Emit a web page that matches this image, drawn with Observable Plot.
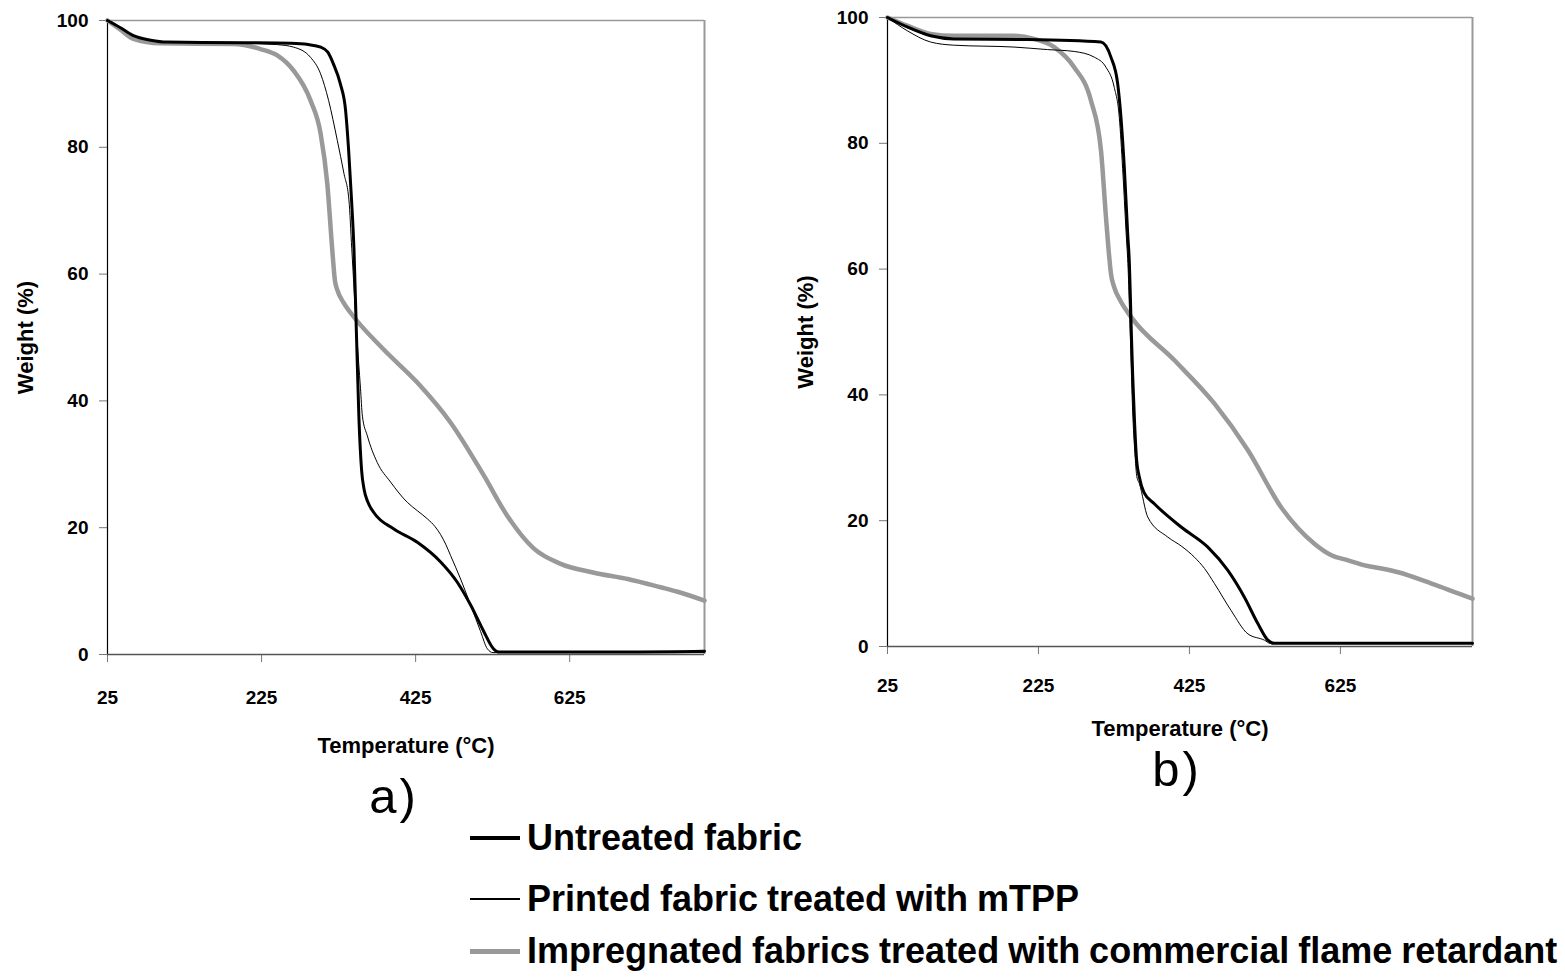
<!DOCTYPE html>
<html>
<head>
<meta charset="utf-8">
<script src="https://cdn.jsdelivr.net/npm/d3@7"></script>
<script src="https://cdn.jsdelivr.net/npm/@observablehq/plot@0.6"></script>
<style>
  html, body { margin: 0; padding: 0; background: #fff; }
  #page { position: relative; width: 1565px; height: 978px; overflow: hidden; background: #fff;
          font-family: "Liberation Sans", Arial, sans-serif; }
  .chart { position: absolute; top: 0; }
  .panel { position: absolute; font-size: 49px; letter-spacing: 3px; font-weight: normal; line-height: 1; color: #000; transform: translate(-50%, -50%); }
  .leg { position: absolute; left: 470px; display: flex; align-items: center; height: 44px; transform: translateY(-50%);
         font-size: 36px; font-weight: bold; word-spacing: -1px; color: #000; white-space: nowrap; }
  .sw { display: inline-block; width: 50px; margin-right: 7px; }
</style>
</head>
<body>
<div id="page">
  <div id="chartA" class="chart" style="left:0px"></div>
  <div id="chartB" class="chart" style="left:780px"></div>
  <div class="panel" style="left:394px; top:796px">a)</div>
  <div class="panel" style="left:1177px; top:769px">b)</div>
  <div class="leg" style="top:838px"><span class="sw" style="height:4px;background:#000"></span><span id="l1"></span></div>
  <div class="leg" style="top:899px"><span class="sw" style="height:1.5px;background:#000"></span><span id="l2"></span></div>
  <div class="leg" style="top:951px"><span class="sw" style="height:5px;background:#999"></span><span id="l3"></span></div>
</div>
<script>
// ---- data (temperature °C, weight %) ----
const xTicks = [25, 225, 425, 625];
const yTicks = [0, 20, 40, 60, 80, 100];
const seriesNames = [
  "Untreated fabric",
  "Printed fabric treated with mTPP",
  "Impregnated fabrics treated with commercial flame retardant"
];
const xLabel = "Temperature (°C)";
const yLabel = "Weight (%)";

// panel a)
const aUntreated = [[25,100],[41.3,98.9],[58.7,97.6],[81.2,96.9],[101.6,96.6],[203.7,96.5],[263,96.4],[285.5,96.2],[301.8,95.8],[311,95],[318.1,93.2],[327.3,90],[334.1,85.8],[338,79.6],[341.8,71.7],[345,63.8],[348.3,50],[351.3,37.6],[354.9,29],[358,26.1],[363.1,24],[370.7,22.4],[396.8,19.8],[427.2,17.7],[457.5,14.6],[479.1,11.4],[496.4,7.8],[513.6,3.6],[525.5,1.0],[532.6,0.4],[612.3,0.4],[714.4,0.4],[800,0.5]];
const aPrinted = [[25,100],[41.3,98.9],[58.7,97.6],[81.2,96.9],[101.6,96.6],[203.7,96.4],[244.6,96.2],[266.6,95.8],[288.5,94.2],[301.6,91.6],[312,87.4],[323.3,81.1],[331.9,75.9],[338.4,71.7],[342.1,64],[348.8,50],[353.4,42],[355.9,37.6],[362.3,34.5],[375.1,30.3],[392.5,27.2],[414.2,24],[427,22.7],[440.2,21.4],[450,20.2],[457.5,18.9],[464,17.4],[470.4,15.6],[483.4,11.9],[496.4,7.8],[509.4,3.6],[518.1,0.9],[525.5,0.3],[800,0.3]];
const aImpregnated = [[25,100],[41.3,98.6],[58.7,97.1],[93.4,96.4],[188.4,96.3],[223.7,95.5],[245.4,94.5],[266.6,92.1],[288.5,87.4],[301.6,82.2],[310.3,74.3],[316.8,63.8],[320.2,59],[323.3,57.5],[331.4,55.5],[340.6,53.9],[383.5,48.1],[427.2,42.9],[470.3,36.6],[513.7,28.2],[543.9,21.9],[578.6,16.7],[613.3,14.3],[656.6,12.9],[700.2,11.9],[743.1,10.6],[765,9.9],[800,8.5]];

// panel b)
const bUntreated = [[25,100],[51.1,98.5],[82.1,97.1],[112.8,96.6],[207.9,96.5],[307.8,96.1],[321,93.7],[329.9,89.5],[334.3,84.1],[338.7,76.2],[343.2,65.6],[345.4,61],[346.9,55],[348,50],[352,36.5],[354.8,30],[358.7,26.9],[364.7,24.5],[378.5,22.7],[414,19],[449.4,15.8],[475.9,12.1],[498,7.8],[515.8,3.6],[529,1.0],[537.2,0.5],[800,0.5]];
const bPrinted = [[25,100],[51.1,97.9],[82.1,96.1],[112.8,95.6],[192.7,95.3],[237,94.9],[272.3,94.6],[298.9,93.7],[314.4,92.1],[325.4,88.9],[332.1,84.1],[336.5,76],[341.2,65.6],[343.8,60],[345.9,52.4],[350.1,36.5],[353.2,30],[355.3,27],[358.7,25.9],[369.7,20.6],[396.3,17.4],[415,15.9],[431.6,14.2],[445,12.4],[458.2,10.0],[480.3,5.7],[502.5,2.0],[524.5,1.0],[532,0.5],[800,0.5]];
const bImpregnated = [[25,100],[51.1,98.7],[82.1,97.4],[112.8,97.1],[192.7,97.1],[219.2,96.6],[245.8,95.3],[272.3,92.1],[294.5,86.8],[307.8,78.9],[314.4,68.3],[318.7,62],[321,59.3],[325.4,57.1],[333.4,55],[347.6,52.4],[405.1,45.5],[458.2,38.6],[502.5,31.2],[546.7,22.1],[590.9,16.3],[613.1,14.5],[635.2,13.7],[657.3,12.9],[679.5,12.4],[701.6,11.8],[745.8,10.0],[800,7.6]];

document.getElementById("l1").textContent = seriesNames[0];
document.getElementById("l2").textContent = seriesNames[1];
document.getElementById("l3").textContent = seriesNames[2];

const font = "Liberation Sans, Arial, sans-serif";

function makeChart({untreated, printed, impregnated, width, height, mt, mr, mb, ml, tickPad, xTitleDy}) {
  return Plot.plot({
    width, height,
    marginTop: mt, marginRight: mr, marginBottom: mb, marginLeft: ml,
    style: {fontFamily: font, fontWeight: "bold", fontSize: "19px", background: "transparent", overflow: "visible"},
    x: {domain: [25, 800]},
    y: {domain: [0, 100]},
    marks: [
      Plot.ruleY([100], {stroke: "#999", strokeWidth: 1.5}),
      Plot.ruleX([800], {stroke: "#999", strokeWidth: 2}),
      Plot.axisY({ticks: yTicks, tickSize: 8, tickPadding: 11, stroke: "#777", fill: "#000", label: null,
                  fontSize: 19, fontWeight: "bold"}),
      Plot.axisX({ticks: xTicks, tickSize: 8, tickPadding: tickPad, stroke: "#777", fill: "#000", label: null,
                  fontSize: 19, fontWeight: "bold"}),
      Plot.ruleX([25], {stroke: "#000", strokeWidth: 1.2}),
      Plot.ruleY([0], {stroke: "#555", strokeWidth: 1.5}),
      Plot.line(impregnated, {x: d => d[0], y: d => d[1], stroke: "#999", strokeWidth: 4.5, curve: "monotone-x"}),
      Plot.line(printed, {x: d => d[0], y: d => d[1], stroke: "#000", strokeWidth: 1, curve: "monotone-x"}),
      Plot.line(untreated, {x: d => d[0], y: d => d[1], stroke: "#000", strokeWidth: 3, curve: "monotone-x"}),
      Plot.text([xLabel], {frameAnchor: "bottom", dy: xTitleDy, fontSize: 22, fontWeight: "bold", fill: "#000",
                           textAnchor: "middle", lineAnchor: "middle"}),
      Plot.text([yLabel], {frameAnchor: "left", dx: -82, rotate: -90, fontSize: 22, fontWeight: "bold", fill: "#000",
                           textAnchor: "middle", lineAnchor: "middle"})
    ]
  });
}

document.getElementById("chartA").append(makeChart({
  untreated: aUntreated, printed: aPrinted, impregnated: aImpregnated,
  width: 720, height: 760, mt: 20, mr: 16, mb: 106, ml: 107, tickPad: 28, xTitleDy: 91
}));
document.getElementById("chartB").append(makeChart({
  untreated: bUntreated, printed: bPrinted, impregnated: bImpregnated,
  width: 785, height: 760, mt: 17, mr: 93, mb: 114, ml: 107, tickPad: 24, xTitleDy: 82
}));
</script>
</body>
</html>
